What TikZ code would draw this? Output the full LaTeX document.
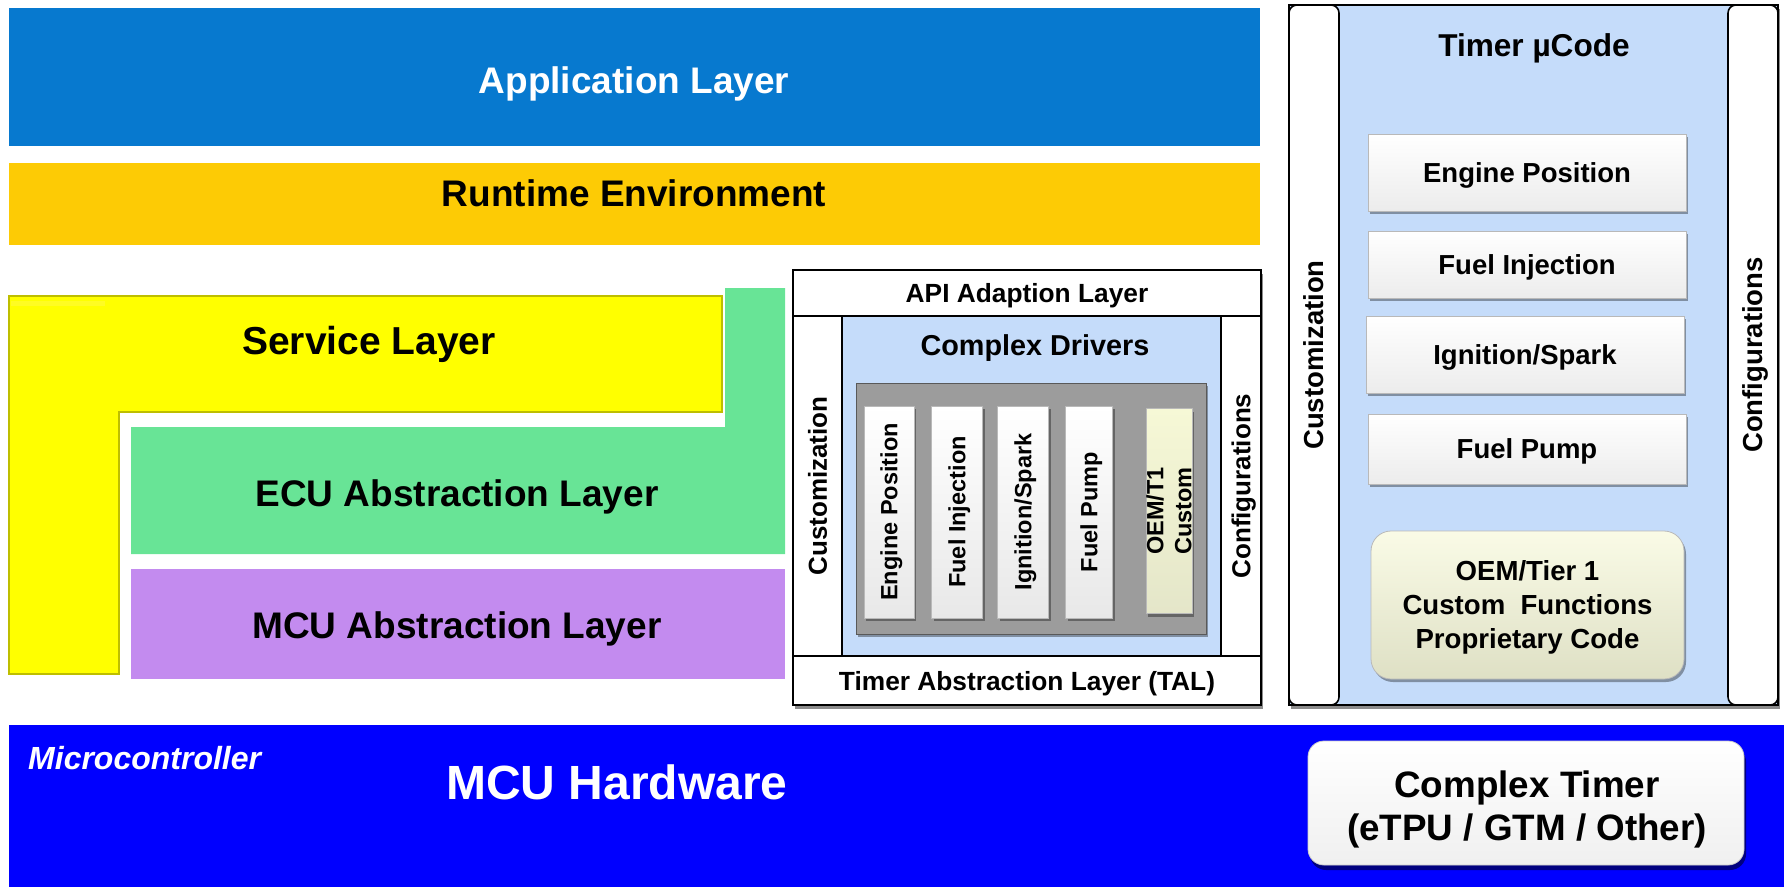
\documentclass[tikz,border=0pt]{standalone}
\usepackage{fontspec}
\newfontfamily\arial{Liberation Sans}
\usetikzlibrary{shadows}
\definecolor{appblue}{RGB}{7,121,207}
\definecolor{rteyellow}{RGB}{253,203,5}
\definecolor{svcyellow}{RGB}{255,255,0}
\definecolor{svcedge}{RGB}{190,190,0}
\definecolor{ecugreen}{RGB}{104,228,150}
\definecolor{mcupurple}{RGB}{195,139,239}
\definecolor{hwblue}{RGB}{0,0,255}
\definecolor{paleblue}{RGB}{197,220,250}
\definecolor{cdgray}{RGB}{156,156,156}
\definecolor{oemyellow}{RGB}{246,248,214}
\newcommand{\fs}[1]{\fontsize{#1}{#1}\selectfont}
\begin{document}
\begin{tikzpicture}[x=1pt,y=-1pt,
  lay/.style={font=\arial\bfseries\fs{37}, inner sep=0},
  % label whose node centre is the centre of its capitals (size in pt)
  lbl/.style={font=\arial\bfseries\fs{#1}, inner sep=0, text height=0.716*#1 pt, text depth=0pt},
  nw/.style={anchor=north west, inner sep=0, outer sep=0},
  frame/.style={draw=black, line width=2pt},
  wcol/.style={fill=white, draw=black, line width=1.6pt},
  shade/.style={drop shadow={shadow xshift=2pt, shadow yshift=-4pt, opacity=0.45, fill=black}},
  softshade/.style={drop shadow={shadow xshift=2pt, shadow yshift=-3pt, opacity=0.35, fill=black}},
  vbar/.style={rotate=90, lbl=23.5, top color=white, bottom color=gray!18, draw=gray!55, line width=0.8pt, softshade},
  hbar/.style={lbl=27.5, top color=white, bottom color=gray!15, draw=gray!55, line width=0.8pt, softshade},
]
\useasboundingbox (0,0) rectangle (1784,887);

% ---------- upper layers ----------
\node[nw, fill=appblue, minimum width=1251, minimum height=138] (app) at (9,8) {};
\node[lay, text=white] (applbl) at (634,83.5) {Application Layer};
\node[nw, fill=rteyellow, minimum width=1251, minimum height=82] (rte) at (9,163) {};
\node[lay] (rtelbl) at (634,193) {Runtime Environment};

% ---------- basic software stack ----------
\path[fill=svcyellow, draw=svcedge, line width=1.6pt]
  (9,296) -- (722,296) -- (722,412) -- (119,412) -- (119,674) -- (9,674) -- cycle;
\path[fill=yellow!60!white, opacity=0.35] (11,301) rectangle (105,306);
\node[lay, font=\arial\bfseries\fs{39}] (svc) at (369,344.5) {Service Layer};

\path[fill=ecugreen]
  (725,288) -- (785,288) -- (785,554) -- (131,554) -- (131,427) -- (725,427) -- cycle;
\node[lay] (ecu) at (457,496.5) {ECU Abstraction Layer};

\node[nw, fill=mcupurple, minimum width=654, minimum height=110] (mcal) at (131,569) {};
\node[lay] (mcallbl) at (457,628.5) {MCU Abstraction Layer};

% ---------- complex drivers block ----------
\node[nw, fill=white, frame, shade, minimum width=468, minimum height=435] (cdd) at (793,270) {};
\node[nw, wcol, minimum width=468, minimum height=46] (api) at (793,270) {};
\node[lbl=26.3] (apilbl) at (1027,293) {API Adaption Layer};
\node[nw, wcol, minimum width=468, minimum height=49] (tal) at (793,656) {};
\node[lbl=26.3] (tallbl) at (1027,681) {Timer Abstraction Layer (TAL)};
\node[wcol, rotate=90, lbl=26, minimum width=340, minimum height=49] (cdcust) at (817.5,486) {Customization};
\node[wcol, rotate=90, lbl=26, minimum width=340, minimum height=40] (cdconf) at (1241,486) {Configurations};
\node[nw, fill=paleblue, draw=black, line width=1.2pt, minimum width=379, minimum height=340] (cdarea) at (842,316) {};
\node[lbl=28.8] (cdtitle) at (1035,345) {Complex Drivers};
\node[nw, fill=cdgray, draw=gray!70!black, line width=1pt, softshade, minimum width=350, minimum height=251] (cdgrp) at (856,383) {};
\node[vbar, minimum width=212, minimum height=50] (cdeng) at (889,512) {Engine Position};
\node[vbar, minimum width=212, minimum height=51] (cdinj) at (957,512) {Fuel Injection};
\node[vbar, minimum width=212, minimum height=51] (cdign) at (1023,512) {Ignition/Spark};
\node[vbar, minimum width=212, minimum height=47] (cdpump) at (1089,512) {Fuel Pump};
\node[vbar, text height=, text depth=, top color=oemyellow, bottom color=oemyellow!85!gray, minimum width=205, minimum height=46, align=center,
      font=\arial\bfseries\fontsize{23.5}{28}\selectfont] (cdoem) at (1169,511) {OEM/T1\\Custom};

% ---------- timer microcode block ----------
\node[nw, fill=paleblue, frame, shade, minimum width=489, minimum height=700] (tmc) at (1289,5) {};
\node[wcol, rotate=90, rounded corners=8pt, lbl=27.5, minimum width=700, minimum height=50] (tmcust) at (1314,355) {Customization};
\node[wcol, rotate=90, rounded corners=8pt, lbl=27.5, minimum width=700, minimum height=50] (tmconf) at (1753,355) {Configurations};
\node[lbl=31.6] (tmtitle) at (1534,45.5) {Timer µCode};
\node[hbar, nw, minimum width=318, minimum height=77] (tmeng) at (1368,134) {Engine Position};
\node[hbar, nw, minimum width=318, minimum height=67] (tminj) at (1368,231) {Fuel Injection};
\node[hbar, nw, minimum width=318, minimum height=77] (tmign) at (1366,316) {Ignition/Spark};
\node[hbar, nw, minimum width=318, minimum height=70] (tmpump) at (1368,414) {Fuel Pump};
\node[nw, rounded corners=20pt, top color=oemyellow!60!white, bottom color=oemyellow!80!gray, draw=gray!55, line width=0.8pt, softshade,
      minimum width=313, minimum height=148] (tmoem) at (1371,531) {};
\node[align=center, font=\arial\bfseries\fontsize{27.6}{34}\selectfont, inner sep=0] (tmoemlbl) at (1527.5,607.5)
  {OEM/Tier 1\\Custom~~Functions\\Proprietary Code};

% ---------- hardware ----------
\node[nw, fill=hwblue, minimum width=1775, minimum height=162] (hw) at (9,725) {};
\node[anchor=west, inner sep=0, text=white, font=\arial\bfseries\itshape\fs{32}] (hwmc) at (28,758) {Microcontroller};
\node[inner sep=0, text=white, font=\arial\bfseries\fs{48}] (hwlbl) at (617,782) {MCU Hardware};
\node[nw, rounded corners=16pt, top color=white, bottom color=gray!12, draw=gray!40, line width=0.8pt,
      drop shadow={shadow xshift=2pt, shadow yshift=-5pt, opacity=0.5, fill=black},
      minimum width=436, minimum height=124] (ctimer) at (1308,741) {};
\node[align=center, inner sep=0, font=\arial\bfseries\fontsize{36.8}{43}\selectfont] (ctimerlbl) at (1527,809)
  {Complex Timer\\(eTPU / GTM / Other)};
\end{tikzpicture}
\end{document}
